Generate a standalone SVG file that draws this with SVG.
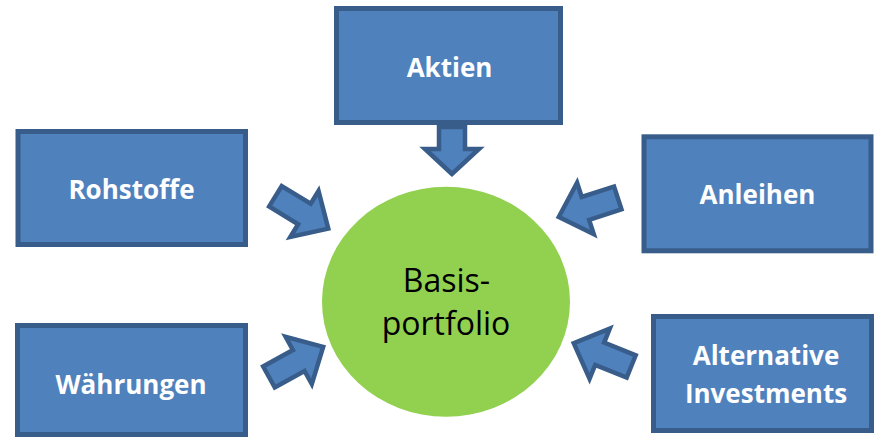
<svg xmlns="http://www.w3.org/2000/svg" width="875" height="438" viewBox="0 0 875 438">
<style>
.box{fill:#4F81BD;stroke:#385D8A;stroke-width:5}
.arr{fill:#4F81BD;stroke:#385D8A;stroke-width:4.5;stroke-linejoin:miter}
.lbl{font-family:"Open Sans","Liberation Sans",sans-serif;font-weight:bold;font-size:26px;fill:#FFFFFF;text-anchor:middle}
.ctr{font-family:"Open Sans","Liberation Sans",sans-serif;font-size:32px;fill:#000000;text-anchor:middle}
</style>
<defs>
<path id="ba" d="M-4,0 L-32,-27 L-32,-12 L-66,-12 L-66,12 L-32,12 L-32,27 Z"/>
</defs>
<rect width="875" height="438" fill="#FFFFFF"/>
<g id="connectors">
<path class="arr" d="M452,174 L425,149 L439,149 L439,127 L465,127 L465,149 L479,149 Z"/>
<use href="#ba" class="arr" transform="translate(331.7,230.7) rotate(31.5)"/>
<use href="#ba" class="arr" transform="translate(555,218.3) rotate(162)"/>
<use href="#ba" class="arr" transform="translate(326.7,345) rotate(-29)"/>
<use href="#ba" class="arr" transform="translate(570,341.7) rotate(202)"/>
</g>
<g id="aktien">
<rect class="box" x="336.5" y="8.5" width="224" height="114"/>
<text class="lbl" x="449.5" y="77">Aktien</text>
</g>
<g id="rohstoffe">
<rect class="box" x="18" y="131.5" width="227.5" height="113"/>
<text class="lbl" x="131.5" y="199">Rohstoffe</text>
</g>
<g id="anleihen">
<rect class="box" x="644" y="136.8" width="227" height="114"/>
<text class="lbl" x="757.5" y="204">Anleihen</text>
</g>
<g id="waehrungen">
<rect class="box" x="17.5" y="325.5" width="228" height="109"/>
<text class="lbl" x="131" y="394">Währungen</text>
</g>
<g id="alternative">
<rect class="box" x="653.5" y="316.5" width="218" height="114"/>
<text class="lbl" x="766" y="365">Alternative</text>
<text class="lbl" x="766" y="402.5">Investments</text>
</g>
<g id="basisportfolio">
<ellipse cx="446" cy="301.7" rx="124" ry="115" fill="#92D050"/>
<text class="ctr" x="446.5" y="291.5">Basis-</text>
<text class="ctr" x="446" y="335">portfolio</text>
</g>
</svg>
